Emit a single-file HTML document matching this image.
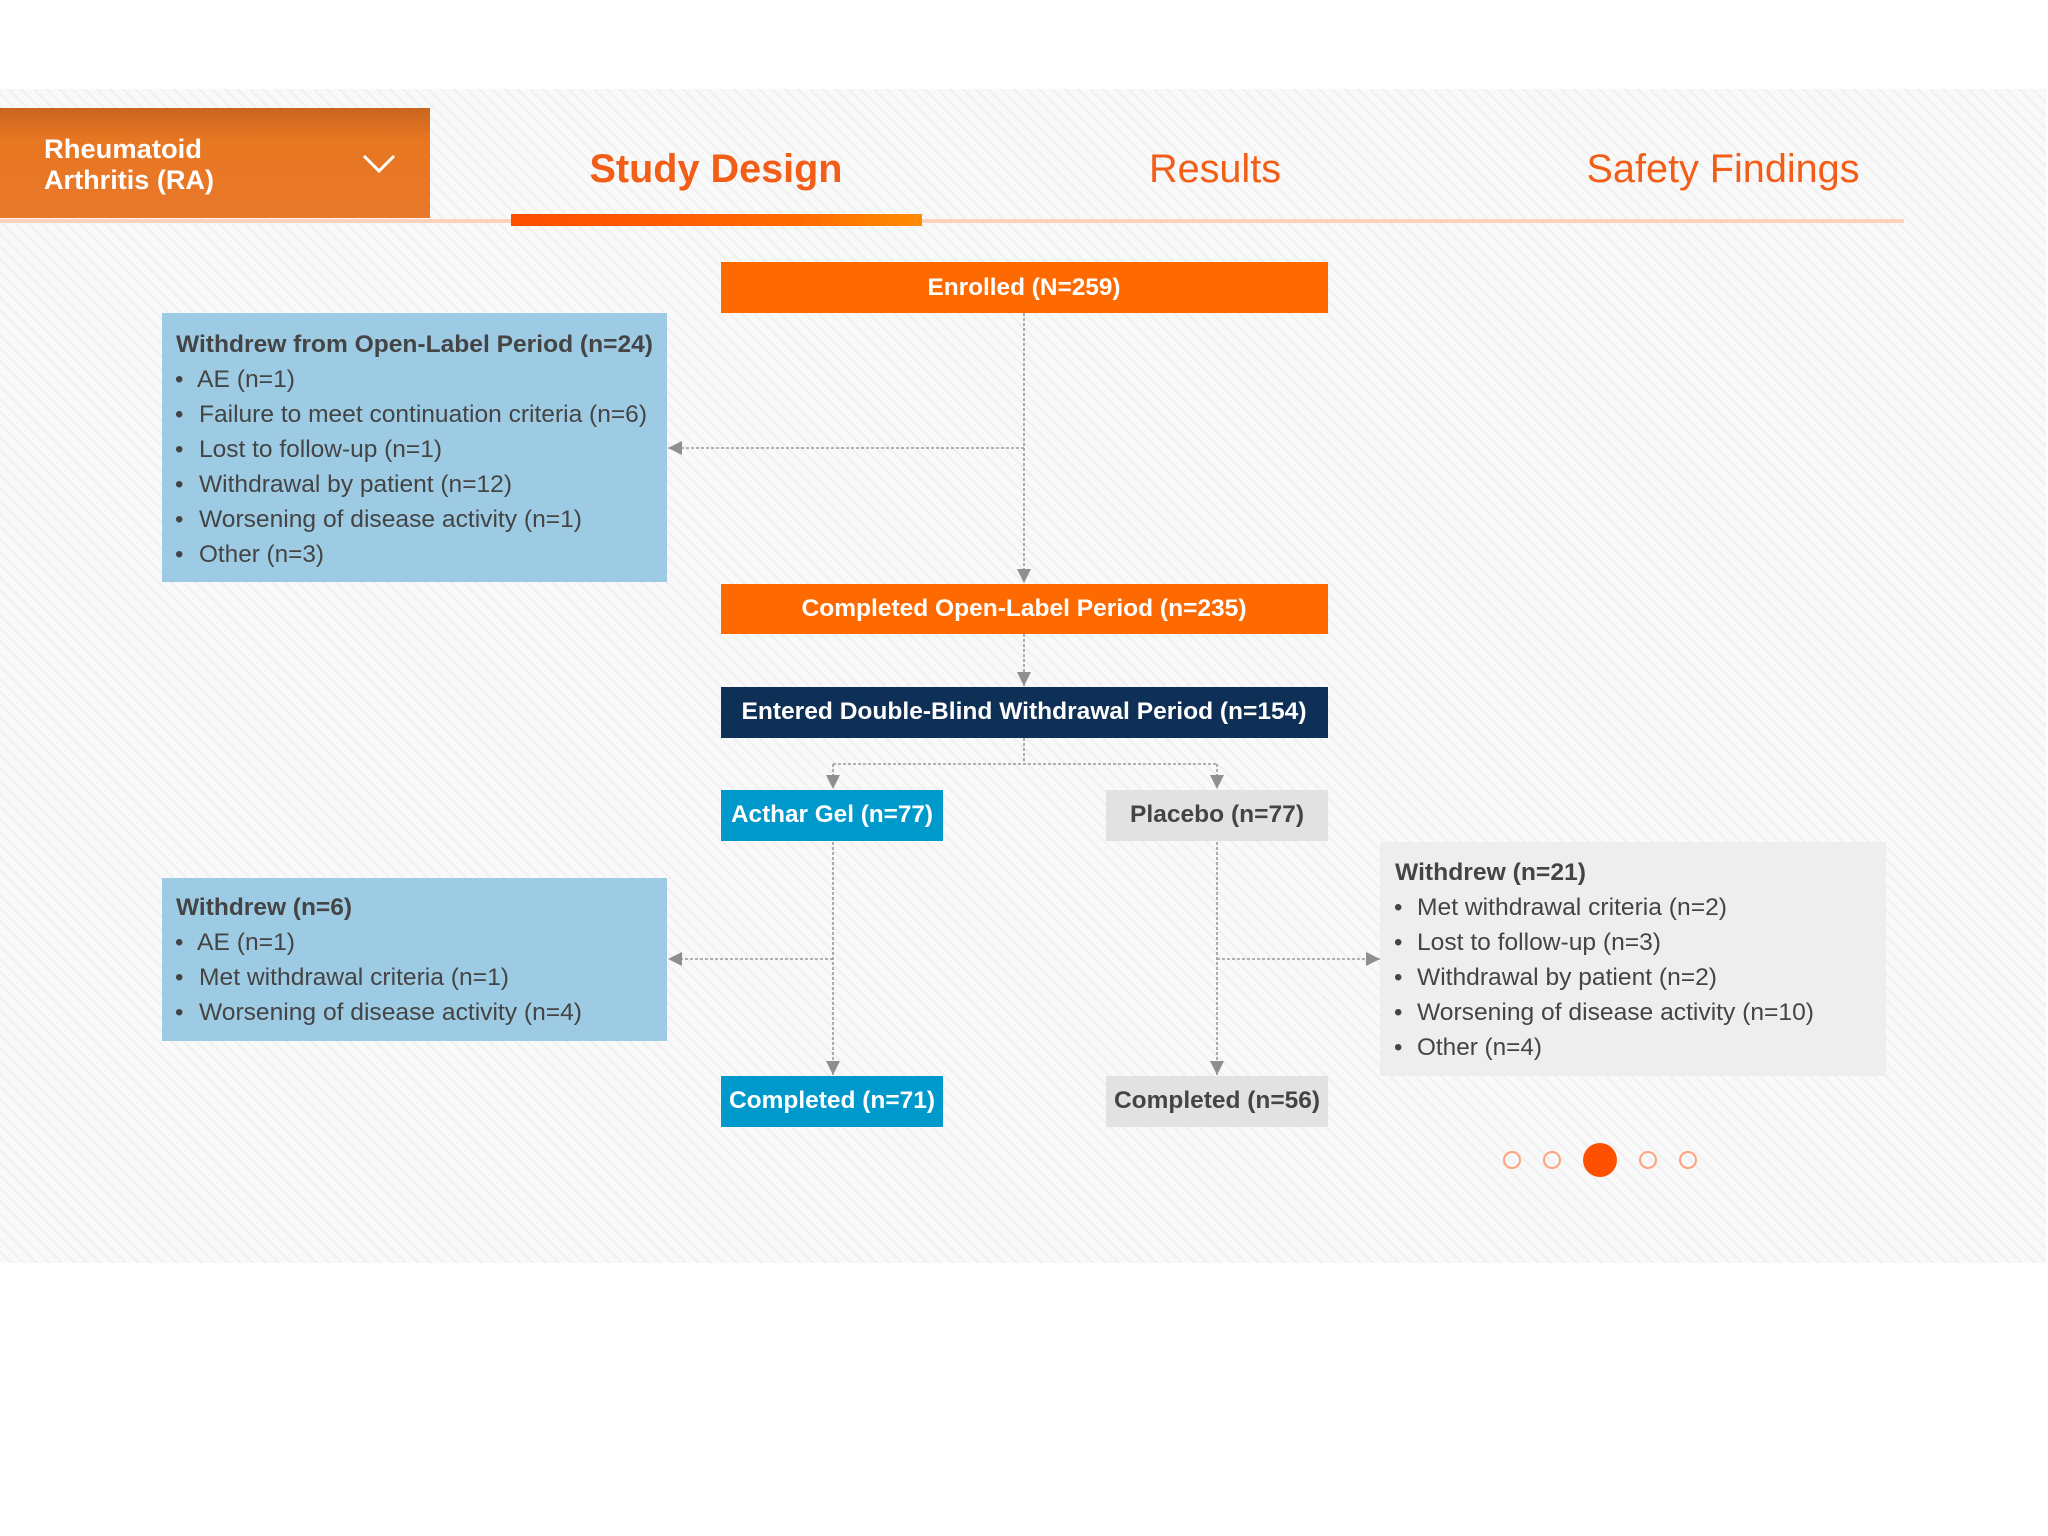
<!DOCTYPE html>
<html><head><meta charset="utf-8"><style>
html,body{margin:0;padding:0;background:#fff;}
body{width:2048px;height:1536px;position:relative;overflow:hidden;font-family:"Liberation Sans",Arial,sans-serif;}
.panel{position:absolute;left:0;top:89px;width:2046px;height:1174px;background-color:#f9f9f9;
background-image:repeating-linear-gradient(45deg,rgba(0,0,0,0) 0px,rgba(0,0,0,0) 7px,rgba(0,0,0,0.035) 7px,rgba(0,0,0,0.035) 9px);}
svg{position:absolute;left:0;top:0;}
</style></head><body>
<div class="panel"></div>
<svg width="2048" height="1536" viewBox="0 0 2048 1536" font-family="Liberation Sans, Arial, sans-serif">
<defs>
<linearGradient id="dd" x1="0" y1="0" x2="0" y2="1"><stop offset="0" stop-color="#c9651f"/><stop offset="0.3" stop-color="#e87722"/><stop offset="1" stop-color="#e8782a"/></linearGradient>
<linearGradient id="ul" x1="0" y1="0" x2="1" y2="0"><stop offset="0" stop-color="#ff4d00"/><stop offset="0.7" stop-color="#ff6a00"/><stop offset="1" stop-color="#ff8c00"/></linearGradient>
<marker id="ah" viewBox="0 0 10 10" refX="10" refY="5" markerWidth="14" markerHeight="14" markerUnits="userSpaceOnUse" orient="auto"><path d="M0,0 L10,5 L0,10 z" fill="#8f8f8f"/></marker>
</defs>
<!-- header -->
<rect x="0" y="108" width="430" height="110" fill="url(#dd)"/>
<text x="44" y="158" font-size="27" font-weight="bold" fill="#fff" textLength="158" lengthAdjust="spacingAndGlyphs">Rheumatoid</text>
<text x="44" y="189" font-size="27" font-weight="bold" fill="#fff" textLength="170" lengthAdjust="spacingAndGlyphs">Arthritis (RA)</text>
<path d="M364,156 L379,171 L394,156" fill="none" stroke="#fff" stroke-width="3"/>
<rect x="0" y="219" width="1904" height="4" fill="#fdd3bd"/>
<rect x="511" y="214" width="411" height="12" fill="url(#ul)"/>
<text x="716" y="182" font-size="40" font-weight="bold" fill="#f25d17" text-anchor="middle" textLength="253" lengthAdjust="spacingAndGlyphs">Study Design</text>
<text x="1215" y="182" font-size="40" fill="#f25d17" text-anchor="middle" textLength="132" lengthAdjust="spacingAndGlyphs">Results</text>
<text x="1723" y="182" font-size="40" fill="#f25d17" text-anchor="middle" textLength="273" lengthAdjust="spacingAndGlyphs">Safety Findings</text>

<!-- connectors -->
<g stroke="#9a9a9a" stroke-width="1.6" stroke-dasharray="3,2" fill="none">
<line x1="1024" y1="313" x2="1024" y2="583" marker-end="url(#ah)"/>
<line x1="1024" y1="448" x2="668" y2="448" marker-end="url(#ah)"/>
<line x1="1024" y1="634" x2="1024" y2="686" marker-end="url(#ah)"/>
<line x1="1024" y1="738" x2="1024" y2="764"/>
<line x1="833" y1="764" x2="1217" y2="764"/>
<line x1="833" y1="764" x2="833" y2="789" marker-end="url(#ah)"/>
<line x1="1217" y1="764" x2="1217" y2="789" marker-end="url(#ah)"/>
<line x1="833" y1="842" x2="833" y2="1075" marker-end="url(#ah)"/>
<line x1="833" y1="959" x2="668" y2="959" marker-end="url(#ah)"/>
<line x1="1217" y1="842" x2="1217" y2="1075" marker-end="url(#ah)"/>
<line x1="1217" y1="959" x2="1380" y2="959" marker-end="url(#ah)"/>
</g>

<!-- main boxes -->
<rect x="721" y="262" width="607" height="51" fill="#ff6a00"/>
<text x="1024" y="295" font-size="24" font-weight="bold" fill="#fff" text-anchor="middle" textLength="193" lengthAdjust="spacingAndGlyphs">Enrolled (N=259)</text>
<rect x="721" y="584" width="607" height="50" fill="#ff6a00"/>
<text x="1024" y="616" font-size="24" font-weight="bold" fill="#fff" text-anchor="middle" textLength="445" lengthAdjust="spacingAndGlyphs">Completed Open-Label Period (n=235)</text>
<rect x="721" y="687" width="607" height="51" fill="#0f3056"/>
<text x="1024" y="719" font-size="24" font-weight="bold" fill="#fff" text-anchor="middle" textLength="565" lengthAdjust="spacingAndGlyphs">Entered Double-Blind Withdrawal Period (n=154)</text>
<rect x="721" y="790" width="222" height="51" fill="#0099cc"/>
<text x="832" y="822" font-size="24" font-weight="bold" fill="#fff" text-anchor="middle" textLength="202" lengthAdjust="spacingAndGlyphs">Acthar Gel (n=77)</text>
<rect x="1106" y="790" width="222" height="51" fill="#e2e2e2"/>
<text x="1217" y="822" font-size="24" font-weight="bold" fill="#444" text-anchor="middle" textLength="174" lengthAdjust="spacingAndGlyphs">Placebo (n=77)</text>
<rect x="721" y="1076" width="222" height="51" fill="#0099cc"/>
<text x="832" y="1108" font-size="24" font-weight="bold" fill="#fff" text-anchor="middle" textLength="206" lengthAdjust="spacingAndGlyphs">Completed (n=71)</text>
<rect x="1106" y="1076" width="222" height="51" fill="#e2e2e2"/>
<text x="1217" y="1108" font-size="24" font-weight="bold" fill="#444" text-anchor="middle" textLength="206" lengthAdjust="spacingAndGlyphs">Completed (n=56)</text>

<!-- withdrew OL -->
<rect x="162" y="313" width="505" height="269" fill="#9ecbe4"/>
<g font-size="24" fill="#444">
<text x="176" y="352" font-weight="bold" textLength="477" lengthAdjust="spacingAndGlyphs">Withdrew from Open-Label Period (n=24)</text>
<text x="175" y="387">•</text><text x="197" y="387" textLength="98" lengthAdjust="spacingAndGlyphs">AE (n=1)</text>
<text x="175" y="422">•</text><text x="199" y="422" textLength="448" lengthAdjust="spacingAndGlyphs">Failure to meet continuation criteria (n=6)</text>
<text x="175" y="457">•</text><text x="199" y="457" textLength="243" lengthAdjust="spacingAndGlyphs">Lost to follow-up (n=1)</text>
<text x="175" y="492">•</text><text x="199" y="492" textLength="313" lengthAdjust="spacingAndGlyphs">Withdrawal by patient (n=12)</text>
<text x="175" y="527">•</text><text x="199" y="527" textLength="383" lengthAdjust="spacingAndGlyphs">Worsening of disease activity (n=1)</text>
<text x="175" y="562">•</text><text x="199" y="562" textLength="125" lengthAdjust="spacingAndGlyphs">Other (n=3)</text>
</g>

<!-- withdrew 6 -->
<rect x="162" y="878" width="505" height="163" fill="#9ecbe4"/>
<g font-size="24" fill="#444">
<text x="176" y="915" font-weight="bold" textLength="176" lengthAdjust="spacingAndGlyphs">Withdrew (n=6)</text>
<text x="175" y="950">•</text><text x="197" y="950" textLength="98" lengthAdjust="spacingAndGlyphs">AE (n=1)</text>
<text x="175" y="985">•</text><text x="199" y="985" textLength="310" lengthAdjust="spacingAndGlyphs">Met withdrawal criteria (n=1)</text>
<text x="175" y="1020">•</text><text x="199" y="1020" textLength="383" lengthAdjust="spacingAndGlyphs">Worsening of disease activity (n=4)</text>
</g>

<!-- withdrew 21 -->
<rect x="1380" y="842" width="506" height="234" fill="#eeeeee"/>
<g font-size="24" fill="#444">
<text x="1395" y="880" font-weight="bold" textLength="191" lengthAdjust="spacingAndGlyphs">Withdrew (n=21)</text>
<text x="1394" y="915">•</text><text x="1417" y="915" textLength="310" lengthAdjust="spacingAndGlyphs">Met withdrawal criteria (n=2)</text>
<text x="1394" y="950">•</text><text x="1417" y="950" textLength="244" lengthAdjust="spacingAndGlyphs">Lost to follow-up (n=3)</text>
<text x="1394" y="985">•</text><text x="1417" y="985" textLength="300" lengthAdjust="spacingAndGlyphs">Withdrawal by patient (n=2)</text>
<text x="1394" y="1020">•</text><text x="1417" y="1020" textLength="397" lengthAdjust="spacingAndGlyphs">Worsening of disease activity (n=10)</text>
<text x="1394" y="1055">•</text><text x="1417" y="1055" textLength="125" lengthAdjust="spacingAndGlyphs">Other (n=4)</text>
</g>

<!-- dots -->
<g fill="none" stroke="#ffa27a" stroke-width="2">
<circle cx="1512" cy="1160" r="8"/><circle cx="1552" cy="1160" r="8"/>
<circle cx="1648" cy="1160" r="8"/><circle cx="1688" cy="1160" r="8"/>
</g>
<circle cx="1600" cy="1160" r="17" fill="#ff5000"/>
</svg>
</body></html>
